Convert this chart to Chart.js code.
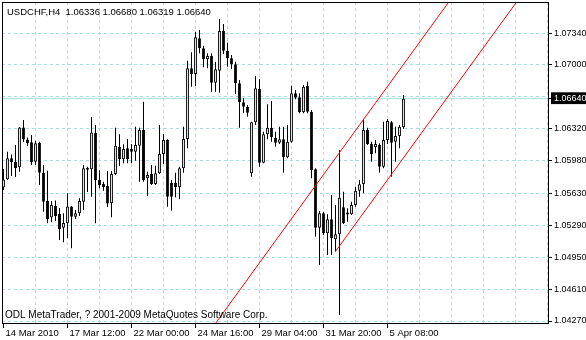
<!DOCTYPE html>
<html>
<head>
<meta charset="utf-8">
<script src="https://cdn.jsdelivr.net/npm/chart.js@4.4.1/dist/chart.umd.min.js"></script>
<style>
  html, body { margin: 0; padding: 0; background: #fff; }
</style>
</head>
<body>
<canvas id="chart" width="586" height="340"></canvas>
<script>
const symbolTitle = 'USDCHF,H4  1.06336 1.06680 1.06319 1.06640';
const copyright = 'ODL MetaTrader, ? 2001-2009 MetaQuotes Software Corp.';

// bar index -> date label on the time axis
const dateLabels = ['14 Mar 2010', '17 Mar 12:00', '22 Mar 00:00', '24 Mar 16:00', '29 Mar 04:00', '31 Mar 20:00', '5 Apr 08:00'];
const dateLabelBars = [0, 16, 32, 48, 64, 80, 96];
const priceTicks = [1.0734, 1.0700, 1.0666, 1.0664, 1.0632, 1.0598, 1.0563, 1.0529, 1.0495, 1.0461, 1.0427];
const lastPrice = 1.0664;

const opens = [
  1.05693, 1.05781, 1.06005, 1.05965, 1.05909, 1.06333, 1.06205, 1.06175, 1.05968, 1.06171,
  1.05848, 1.05549, 1.05373, 1.05496, 1.05411, 1.05265, 1.05312, 1.05491, 1.05382, 1.05418,
  1.05542, 1.05901, 1.05888, 1.06274, 1.05773, 1.05731, 1.05709, 1.05525, 1.05837, 1.06128,
  1.05994, 1.06111, 1.06104, 1.06075, 1.06139, 1.06306, 1.05791, 1.05837, 1.05731, 1.05845,
  1.06050, 1.06200, 1.05744, 1.05744, 1.05695, 1.05898, 1.06210, 1.06964, 1.06903, 1.07284,
  1.07177, 1.07060, 1.07095, 1.06810, 1.06938, 1.07362, 1.07152, 1.07071, 1.07007, 1.06804,
  1.06601, 1.06555, 1.05845, 1.06388, 1.06743, 1.05958, 1.06260, 1.06331, 1.06224, 1.06171,
  1.06207, 1.06015, 1.06182, 1.06697, 1.06655, 1.06495, 1.06775, 1.06501, 1.05887, 1.05265,
  1.05418, 1.05205, 1.05354, 1.05141, 1.05194, 1.05482, 1.05418, 1.05408, 1.05507, 1.05659,
  1.05727, 1.06306, 1.06157, 1.06122, 1.06146, 1.05915, 1.06200, 1.06388, 1.06182, 1.06242,
  1.06336
];
const highs = [
  1.05890, 1.06075, 1.06045, 1.06146, 1.06338, 1.06413, 1.06226, 1.06253, 1.06192, 1.06182,
  1.05933, 1.05872, 1.05549, 1.05555, 1.05475, 1.05418, 1.05631, 1.05496, 1.05453, 1.05578,
  1.05933, 1.05915, 1.06445, 1.06360, 1.05877, 1.05755, 1.05869, 1.05869, 1.06331, 1.06260,
  1.06154, 1.06210, 1.06157, 1.06341, 1.06331, 1.06608, 1.05862, 1.05933, 1.05926, 1.06360,
  1.06260, 1.06207, 1.05773, 1.05851, 1.05915, 1.06341, 1.07045, 1.07135, 1.07354, 1.07372,
  1.07205, 1.07124, 1.07124, 1.07034, 1.07489, 1.07436, 1.07237, 1.07106, 1.07034, 1.06839,
  1.06644, 1.06573, 1.06395, 1.06882, 1.06847, 1.06288, 1.06580, 1.06615, 1.06288, 1.06341,
  1.06341, 1.06360, 1.06778, 1.06733, 1.06697, 1.06786, 1.06821, 1.06519, 1.05898, 1.05443,
  1.05435, 1.05408, 1.05613, 1.05507, 1.06093, 1.05649, 1.05472, 1.05542, 1.05702, 1.05773,
  1.06423, 1.06331, 1.06182, 1.06200, 1.06164, 1.06395, 1.06423, 1.06402, 1.06341, 1.06360,
  1.06680
];
const lows = [
  1.05667, 1.05773, 1.05816, 1.05805, 1.05862, 1.06178, 1.06136, 1.05933, 1.05933, 1.05720,
  1.05435, 1.05312, 1.05322, 1.05336, 1.05134, 1.05109, 1.05155, 1.05045, 1.05358, 1.05389,
  1.05453, 1.05645, 1.05595, 1.05312, 1.05685, 1.05659, 1.05485, 1.05376, 1.05827, 1.05922,
  1.05951, 1.05951, 1.05951, 1.05979, 1.05755, 1.05755, 1.05603, 1.05720, 1.05720, 1.05837,
  1.05944, 1.05489, 1.05446, 1.05589, 1.05568, 1.05851, 1.06111, 1.06768, 1.06775, 1.07124,
  1.06975, 1.06964, 1.06715, 1.06715, 1.06704, 1.07116, 1.06981, 1.06956, 1.06690, 1.06331,
  1.06484, 1.06448, 1.05808, 1.06360, 1.05915, 1.05951, 1.06207, 1.06182, 1.06128, 1.06157,
  1.05851, 1.06005, 1.06171, 1.06633, 1.06484, 1.06484, 1.06484, 1.05791, 1.05169, 1.04867,
  1.05187, 1.04974, 1.04974, 1.05011, 1.04334, 1.05304, 1.05329, 1.05400, 1.05489, 1.05595,
  1.05631, 1.06146, 1.05968, 1.06058, 1.05851, 1.05898, 1.06157, 1.05808, 1.05968, 1.06111,
  1.06319
];
const closes = [
  1.05779, 1.06005, 1.05965, 1.05901, 1.06333, 1.06205, 1.06164, 1.05965, 1.06164, 1.05851,
  1.05542, 1.05358, 1.05507, 1.05389, 1.05251, 1.05315, 1.05491, 1.05382, 1.05418, 1.05549,
  1.05898, 1.05883, 1.06280, 1.05770, 1.05720, 1.05695, 1.05523, 1.05837, 1.06139, 1.05994,
  1.06104, 1.05994, 1.06075, 1.06146, 1.06306, 1.05773, 1.05827, 1.05731, 1.05845, 1.06050,
  1.06200, 1.05595, 1.05595, 1.05695, 1.05898, 1.06210, 1.06964, 1.06903, 1.07294, 1.07177,
  1.07060, 1.07095, 1.06810, 1.06953, 1.07362, 1.07152, 1.07071, 1.07007, 1.06804, 1.06601,
  1.06555, 1.06491, 1.06388, 1.06751, 1.05958, 1.06260, 1.06331, 1.06228, 1.06171, 1.06207,
  1.06015, 1.06182, 1.06697, 1.06651, 1.06495, 1.06768, 1.06501, 1.05880, 1.05265, 1.05418,
  1.05205, 1.05354, 1.05152, 1.05194, 1.05585, 1.05312, 1.05405, 1.05507, 1.05659, 1.05727,
  1.06306, 1.06157, 1.06047, 1.06157, 1.05915, 1.06200, 1.06402, 1.06171, 1.06242, 1.06341,
  1.06640
];

// equidistant channel, two anchor points per line (bar index, price)
const channelUpperBars = [50, 115];
const channelUpperPrices = [1.04068, 1.07887];
const channelLowerBars = [83, 135];
const channelLowerPrices = [1.05011, 1.08066];

const gridColor = '#aadede';
const none = 'rgba(0,0,0,0)';
const fontFamily = '"Liberation Sans", Arial, sans-serif';

const wicks = lows.map((l, i) => ({ x: i, y: [l, highs[i]] }));
const bodies = opens.map((o, i) => ({ x: i, y: [o, closes[i]] }));
const bodyColors = opens.map((o, i) => closes[i] >= o ? '#ffffff' : '#000000');

const mtDecor = {
  id: 'mtDecor',
  afterDraw(chart) {
    const { ctx, chartArea: a } = chart;
    ctx.save();
    ctx.strokeStyle = '#000';
    ctx.lineWidth = 1;
    ctx.strokeRect(a.left + 0.5, a.top + 0.5, a.right - a.left, a.bottom - a.top);
    ctx.fillStyle = '#000';
    ctx.textBaseline = 'alphabetic';
    ctx.font = '9.5px ' + fontFamily;
    ctx.fillText(symbolTitle, a.left + 5, a.top + 13);
    ctx.font = '10px ' + fontFamily;
    ctx.fillText(copyright, a.left + 3, a.bottom - 5);
    ctx.restore();
  }
};

Chart.defaults.font.family = fontFamily;
Chart.defaults.font.size = 9;
Chart.defaults.color = '#000';

new Chart(document.getElementById('chart'), {
  type: 'bar',
  data: {
    datasets: [
      {
        type: 'line',
        data: channelUpperBars.map((b, k) => ({ x: b, y: channelUpperPrices[k] })),
        borderColor: '#ff0000', borderWidth: 1, pointRadius: 0, order: 0
      },
      {
        type: 'line',
        data: channelLowerBars.map((b, k) => ({ x: b, y: channelLowerPrices[k] })),
        borderColor: '#ff0000', borderWidth: 1, pointRadius: 0, order: 0
      },
      {
        data: bodies,
        backgroundColor: bodyColors,
        borderColor: '#000',
        borderWidth: 1,
        borderSkipped: false,
        inflateAmount: 0,
        minBarLength: 2,
        grouped: false,
        maxBarThickness: 3,
        order: 1
      },
      {
        data: wicks,
        backgroundColor: '#000',
        borderWidth: 0,
        inflateAmount: 0,
        grouped: false,
        maxBarThickness: 1,
        order: 2
      },
      {
        type: 'line',
        data: [{ x: -1, y: lastPrice }, { x: 140, y: lastPrice }],
        borderColor: '#a8dcdc', borderWidth: 1, pointRadius: 0, order: 3
      }
    ]
  },
  options: {
    responsive: false,
    animation: false,
    events: [],
    layout: { padding: { left: 2, top: 2, right: 0, bottom: 0 } },
    plugins: { legend: { display: false }, tooltip: { enabled: false } },
    scales: {
      x: {
        type: 'linear',
        min: -0.375,
        max: 136.125,
        offset: false,
        afterBuildTicks: (scale) => {
          const t = [];
          for (let i = 0; i <= 136; i += 8) t.push({ value: i });
          scale.ticks = t;
        },
        afterFit: (scale) => { scale.height = 17; scale.paddingLeft = 0; scale.paddingRight = 0; },
        grid: {
          offset: false,
          color: (c) => c.tick && c.tick.value === 0 ? none : gridColor,
          tickColor: (c) => c.tick && dateLabelBars.includes(c.tick.value) ? '#000' : none,
          tickLength: 5
        },
        border: { display: true, color: '#000', dash: [3, 3] },
        ticks: {
          autoSkip: false,
          maxRotation: 0,
          align: 'start',
          padding: 0,
          labelOffset: 2,
          font: { size: 9.5 },
          callback: (v) => {
            const k = dateLabelBars.indexOf(v);
            return k >= 0 ? dateLabels[k] : '';
          }
        }
      },
      y: {
        type: 'linear',
        position: 'right',
        min: 1.042488,
        max: 1.076707,
        afterBuildTicks: (scale) => { scale.ticks = priceTicks.map(v => ({ value: v })); },
        afterFit: (scale) => { scale.width = 38; scale.paddingTop = 0; scale.paddingBottom = 0; },
        grid: {
          color: (c) => c.tick && c.tick.value === lastPrice ? none : gridColor,
          tickColor: (c) => c.tick && c.tick.value === 1.0666 ? none : '#000',
          tickLength: 4
        },
        border: { display: true, color: '#000', dash: [3, 3] },
        ticks: {
          padding: 2,
          callback: (v) => v === 1.0666 ? '' : v.toFixed(5),
          color: (c) => c.tick && c.tick.value === lastPrice ? '#fff' : '#000',
          showLabelBackdrop: (c) => !!(c.tick && c.tick.value === lastPrice),
          backdropColor: '#000',
          backdropPadding: { top: 1, bottom: 0, left: 3, right: 6 }
        }
      }
    }
  },
  plugins: [mtDecor]
});
</script>
</body>
</html>
